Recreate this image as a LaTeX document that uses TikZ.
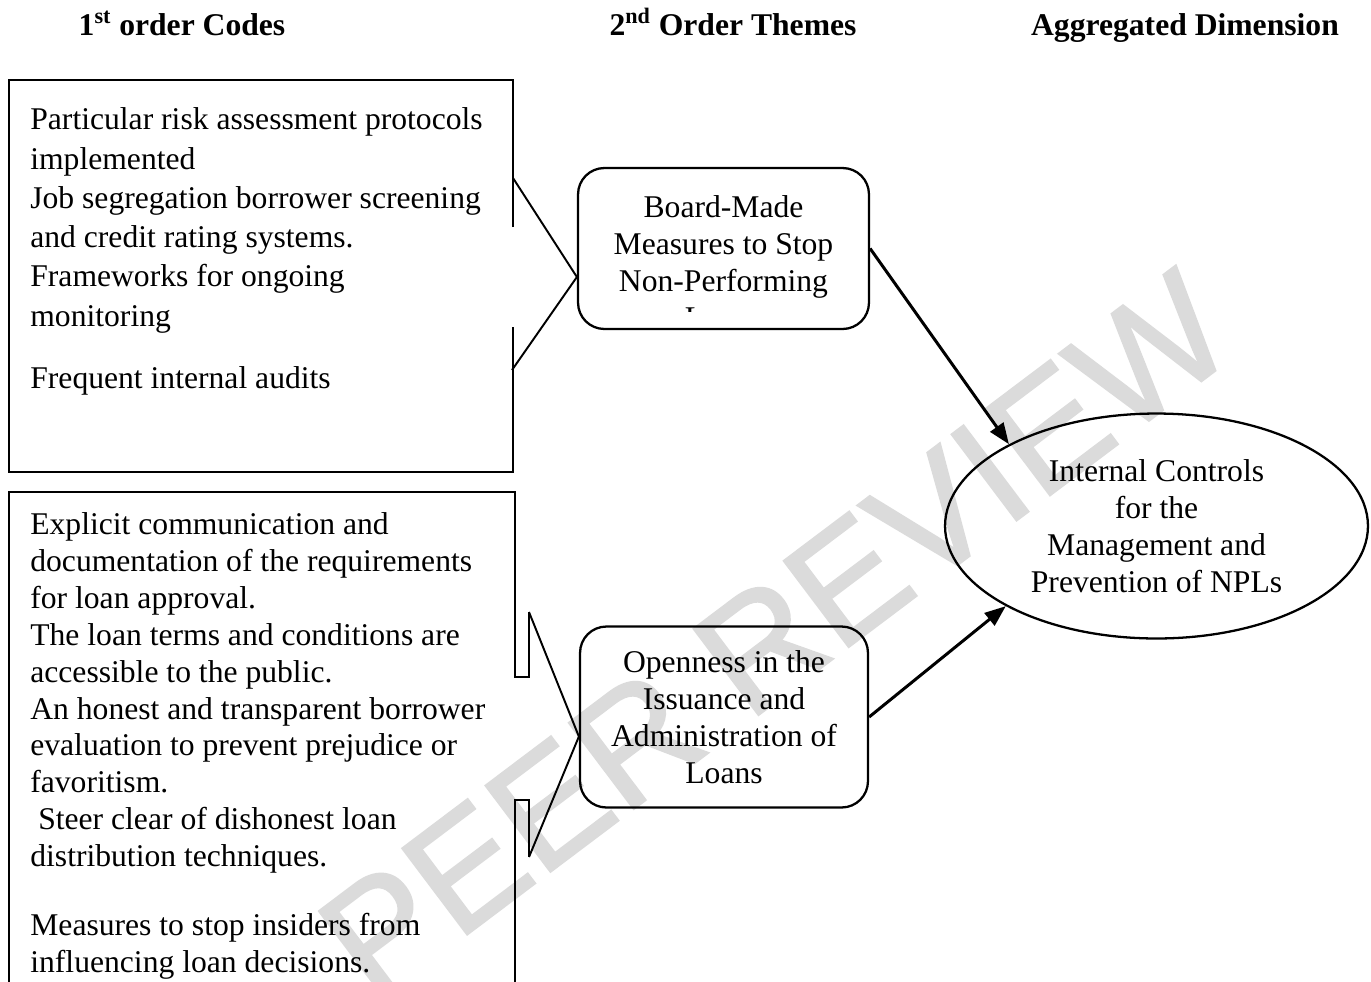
\documentclass[tikz,border=0pt]{standalone}
\usepackage{fontspec}
\setmainfont{Liberation Serif}
\setsansfont{Liberation Sans}
\newfontfamily\markfont[FakeBold=1.5]{Liberation Sans}
\usetikzlibrary{shapes.geometric,arrows.meta,calc}
\definecolor{markgray}{RGB}{219,219,219}

\tikzset{
  txt/.style={font=\fontsize{18}{21}\selectfont,inner sep=0pt},
  head/.style={font=\fontsize{18}{21}\selectfont\bfseries,inner sep=0pt,anchor=base},
  codes/.style={txt,align=left,anchor=base west},
  outline/.style={line width=1.3pt},
  wedge/.style={line width=1.1pt},
  theme/.style={draw,line width=1.3pt,rounded corners=15pt,inner sep=0pt},
  dimension/.style={draw,ellipse,line width=1.3pt,inner sep=0pt,minimum width=8.46cm,minimum height=4.5cm,txt,align=center},
  flow/.style={line width=1.7pt,-{Triangle[length=12pt,width=9pt]}},
}

\begin{document}
\begin{tikzpicture}[x=0.02cm,y=-0.02cm]
    \useasboundingbox (0,0) rectangle (1371,981);
    %% watermark behind everything
    \node[font=\fontsize{89}{89}\selectfont\markfont,text=markgray,rotate=37] (mark) at (775,635) {PEER REVIEW};

    %% column heads
    \node[head] (h1) at (182,35) {1\textsuperscript{st} order Codes};
    \node[head] (h2) at (733,35) {2\textsuperscript{nd} Order Themes};
    \node[head] (h3) at (1185,35) {Aggregated Dimension};

    %% first order code boxes
    \draw[outline] (513,227) -- (513,80) -- (9,80) -- (9,472) -- (513,472) -- (513,327);
    \draw[outline] (529,612) -- (529,677) -- (515,677) -- (515,492) -- (9,492) -- (9,995);
    \draw[outline] (515,995) -- (515,800) -- (529,800) -- (529,857);
    \node[codes,font=\fontsize{18}{22.35}\selectfont] (risk) at (30,388)
        {Particular risk assessment protocols\\implemented\\Job segregation borrower screening\\and credit rating systems.\\Frameworks for ongoing\\monitoring\\[12.8pt]Frequent internal audits};
    \node[codes] (loan) at (30,972)
        {Explicit communication and\\documentation of the requirements\\for loan approval.\\The loan terms and conditions are\\accessible to the public.\\An honest and transparent borrower\\evaluation to prevent prejudice or\\favoritism.\\\hspace*{4.5pt}Steer clear of dishonest loan\\distribution techniques.\\[18pt]Measures to stop insiders from\\influencing loan decisions.};

    %% second order themes
    \node[theme,minimum width=5.82cm,minimum height=3.22cm] (board) at (723.5,248.5) {};
    \begin{scope}
        \clip (580,170) rectangle (867,311);
        \node[txt,align=center,anchor=base] (boardtext) at (723.5,328)
            {Board-Made\\Measures to Stop\\Non-Performing\\Loans};
    \end{scope}
    \node[theme,txt,align=center,minimum width=5.76cm,minimum height=3.62cm] (open) at (724,717)
        {Openness in the\\Issuance and\\Administration of\\Loans};

    %% aggregated dimension
    \node[dimension] (dim) at (1156.5,526)
        {Internal Controls\\for the\\Management and\\Prevention of NPLs};

    %% wedges and arrows
    \draw[wedge] (513,178) -- ($(board.west)+(0,28.5)$) -- (512,370);
    \draw[wedge] (529,612) -- ($(open.west)+(0,19.5)$) -- (529,857);
    \draw[flow] (board.east) -- (dim.151);
    \draw[flow] (open.east) -- (dim.208);
\end{tikzpicture}
\end{document}
